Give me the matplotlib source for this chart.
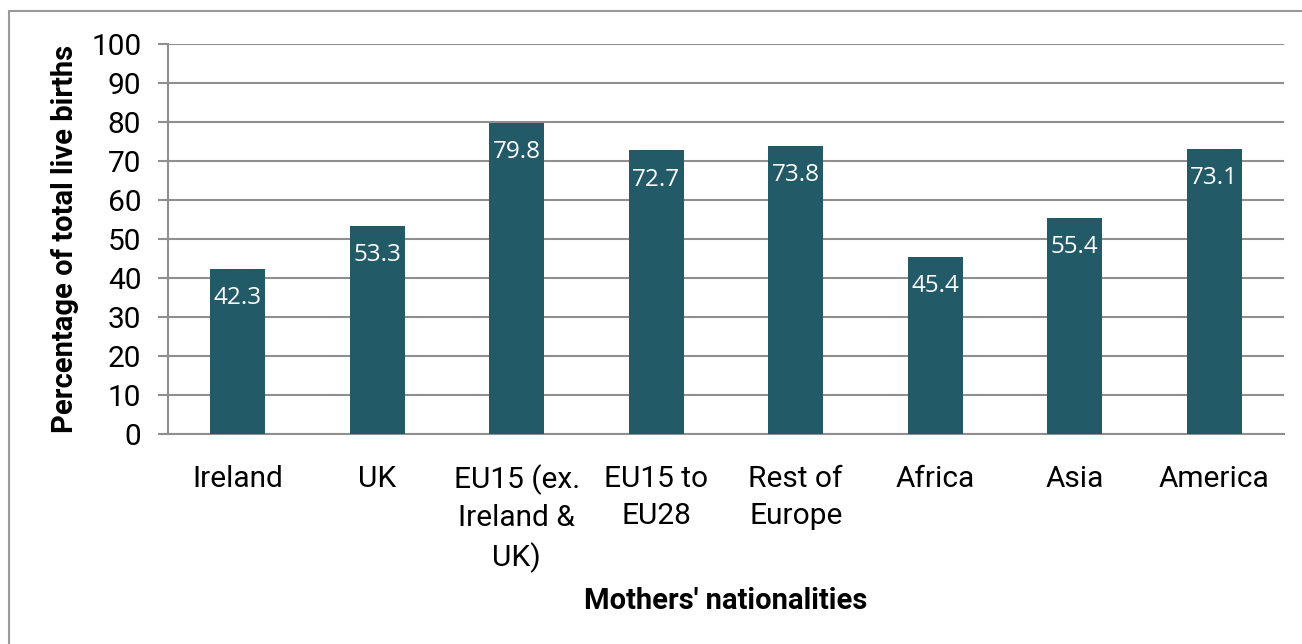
import matplotlib
matplotlib.use("Agg")
import matplotlib.pyplot as plt
from matplotlib.patches import Rectangle

categories = ["Ireland", "UK", "EU15 (ex.\nIreland &\nUK)", "EU15 to\nEU28", "Rest of\nEurope", "Africa", "Asia", "America"]
values = [42.3, 53.3, 79.8, 72.7, 73.8, 45.4, 55.4, 73.1]
yticks = [0, 10, 20, 30, 40, 50, 60, 70, 80, 90, 100]

W, H = 1302, 644
fig = plt.figure(figsize=(W / 100, H / 100), dpi=100)
fig.patch.set_facecolor("white")

# outer border
fig.patches.append(Rectangle((9 / W, -0.2), 1.3, 1 - 11 / H + 0.2, transform=fig.transFigure,
                             fill=False, edgecolor="#9a9a9a", linewidth=1.5, zorder=0))

ax = fig.add_axes([168 / W, 1 - 434 / H, (1284 - 168) / W, (434 - 44) / H])
bar_color = "#225A68"
x = list(range(len(categories)))
bars = ax.bar(x, values, width=0.395, color=bar_color, zorder=3)

ax.set_xlim(-0.5, len(categories) - 0.5)
ax.set_ylim(0, 100)
ax.set_yticks(yticks)
ax.set_xticks(x)
ax.set_xticklabels(categories, fontfamily="Roboto", fontsize=21.5, linespacing=1.42, va="top")
for lbl in ax.get_yticklabels():
    lbl.set_fontfamily("Roboto")
    lbl.set_fontsize(21.5)

grid_color = "#8f8f8f"
ax.yaxis.grid(True, color=grid_color, linewidth=1.5, zorder=0)
ax.set_axisbelow(True)
for s in ["top", "right"]:
    ax.spines[s].set_visible(False)
ax.spines["left"].set_color(grid_color)
ax.spines["left"].set_linewidth(1.5)
ax.spines["bottom"].set_color(grid_color)
ax.spines["bottom"].set_linewidth(1.5)
ax.tick_params(axis="y", length=7.2, width=1.5, color=grid_color, pad=12)
ax.tick_params(axis="x", length=0, pad=22)

for b, v in zip(bars, values):
    ax.annotate(f"{v:.1f}", (b.get_x() + b.get_width() / 2, v), xytext=(0, -21),
                textcoords="offset points", ha="center", va="center",
                color="white", fontsize=17.5, fontfamily="Open Sans", zorder=4)

ax.set_ylabel("Percentage of total live births", fontfamily="Roboto", fontweight="bold",
              fontsize=21)
ax.yaxis.set_label_coords((65 - 168) / (1284 - 168), 0.5)
ax.set_xlabel("Mothers' nationalities", fontfamily="Roboto", fontweight="bold", fontsize=21)
ax.xaxis.set_label_coords((726 - 168) / (1284 - 168), -(601 - 434) / (434 - 44))
ax.xaxis.label.set_va("center")
ax.yaxis.label.set_va("center")

fig.savefig("out.png", dpi=100, facecolor="white")
